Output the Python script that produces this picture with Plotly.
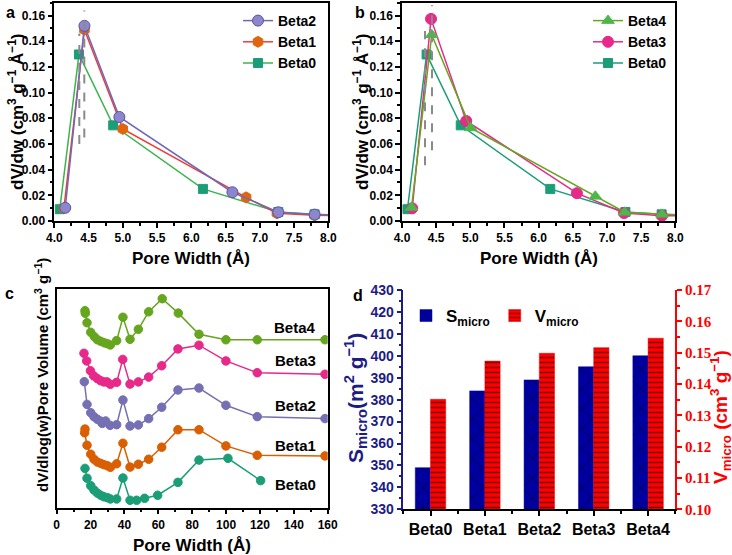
import plotly.graph_objects as go

# ---------------- data ----------------
# panel a
a_beta2_x = [4.16, 4.44, 4.95, 6.60, 7.27, 7.80, 8.40]
a_beta2_y = [0.0103, 0.152, 0.081, 0.0224, 0.0068, 0.0050, 0.0043]
a_beta1_x = [4.14, 4.44, 5.00, 6.80, 7.25, 7.80, 8.40]
a_beta1_y = [0.0099, 0.149, 0.0717, 0.0184, 0.0060, 0.0044, 0.0040]
beta0_x = [4.08, 4.36, 4.86, 6.17, 7.27, 7.80, 8.40]
beta0_y = [0.0092, 0.1297, 0.0745, 0.0250, 0.0070, 0.0052, 0.0045]
# panel b
b_beta4_x = [4.14, 4.435, 5.005, 6.83, 7.26, 7.805, 8.40]
b_beta4_y = [0.0106, 0.145, 0.0725, 0.0192, 0.0068, 0.0052, 0.0042]
b_beta3_x = [4.15, 4.425, 4.94, 6.56, 7.25, 7.805, 8.40]
b_beta3_y = [0.0099, 0.1574, 0.0779, 0.0217, 0.0062, 0.0041, 0.0040]
# guide lines (x, y_start, y_end)
a_guides = [(4.365, 0.060, 0.146), (4.438, 0.065, 0.164)]
b_guides = [(4.337, 0.0435, 0.148), (4.439, 0.055, 0.168)]

# panel c (offset curves, arbitrary units)
c_beta4_x = [16.7, 16.9, 17.9, 20.1, 22.2, 24.0, 26.0, 28.1, 29.9, 31.7, 35.4, 39.1, 43.3, 48.2, 54.3, 62.3, 71.8, 84.0, 99.9, 118.4, 158.4]
c_beta4_y = [0.902, 0.890, 0.847, 0.803, 0.783, 0.769, 0.762, 0.755, 0.751, 0.745, 0.765, 0.872, 0.771, 0.817, 0.897, 0.957, 0.891, 0.794, 0.769, 0.769, 0.769]
c_beta3_x = [16.1, 17.7, 19.9, 21.8, 24.0, 26.0, 27.9, 29.7, 31.7, 35.4, 39.0, 43.3, 48.2, 54.3, 62.0, 71.6, 84.0, 99.9, 118.4, 158.4]
c_beta3_y = [0.707, 0.672, 0.627, 0.604, 0.591, 0.581, 0.576, 0.576, 0.565, 0.574, 0.679, 0.566, 0.576, 0.598, 0.650, 0.727, 0.744, 0.672, 0.618, 0.611]
c_beta2_x = [16.3, 17.9, 20.1, 22.0, 24.0, 26.0, 26.9, 28.9, 31.5, 35.4, 39.1, 43.3, 48.2, 54.3, 62.0, 71.6, 84.0, 99.9, 118.4, 158.4]
c_beta2_y = [0.577, 0.473, 0.435, 0.417, 0.405, 0.396, 0.386, 0.397, 0.377, 0.380, 0.493, 0.374, 0.379, 0.408, 0.460, 0.539, 0.548, 0.469, 0.417, 0.408]
c_beta1_x = [16.7, 16.5, 17.9, 20.1, 22.0, 24.0, 26.0, 27.9, 29.9, 31.7, 35.4, 39.1, 43.3, 48.2, 54.3, 62.0, 71.6, 84.0, 99.9, 118.4, 158.4]
c_beta1_y = [0.360, 0.343, 0.286, 0.245, 0.222, 0.209, 0.203, 0.197, 0.192, 0.185, 0.201, 0.295, 0.186, 0.199, 0.222, 0.277, 0.357, 0.357, 0.283, 0.240, 0.237]
c_beta0_x = [16.7, 17.9, 20.1, 22.0, 24.0, 26.0, 27.9, 29.9, 31.7, 35.4, 39.1, 43.3, 47.2, 51.9, 59.6, 71.6, 84.0, 101.1, 120.4]
c_beta0_y = [0.180, 0.135, 0.101, 0.081, 0.067, 0.057, 0.050, 0.046, 0.040, 0.040, 0.136, 0.034, 0.034, 0.043, 0.057, 0.116, 0.218, 0.226, 0.124]
c_labels = ["Beta4", "Beta3", "Beta2", "Beta1", "Beta0"]
c_label_y = [0.823, 0.672, 0.466, 0.287, 0.104]

# panel d
categories = ["Beta0", "Beta1", "Beta2", "Beta3", "Beta4"]
s_micro = [349, 384, 389, 395, 400]
v_micro = [0.1351, 0.1473, 0.1498, 0.1516, 0.1546]

# ---------------- styling ----------------
W, H = 732, 555
SANS = "Liberation Sans"
SERIF = "Liberation Serif"
NAVY = "#1c1c84"

def px(x):
    return x / W

def py(y):
    return 1 - y / H

fig = go.Figure()

def line_trace(x, y, name, lcol, mcol, sym, size, xa, ya, legend=None, show=True, mline=None):
    return go.Scatter(
        x=x, y=y, name=name, mode="lines+markers",
        line=dict(color=lcol, width=1.5),
        marker=dict(color=mcol, symbol=sym, size=size,
                    line=dict(color=mline or mcol, width=1)),
        xaxis=xa, yaxis=ya, legend=legend, showlegend=show,
    )

# panel a (Beta0 bottom, Beta2 on top)
fig.add_trace(line_trace(beta0_x, beta0_y, "Beta0", "#3cb44b", "#1b9e77", "square", 9, "x", "y", "legend"))
fig.add_trace(line_trace(a_beta1_x, a_beta1_y, "Beta1", "#f23a3a", "#e0650f", "hexagon", 11, "x", "y", "legend"))
fig.add_trace(line_trace(a_beta2_x, a_beta2_y, "Beta2", "#6f68b8", "#8c86cc", "circle", 11, "x", "y", "legend", mline="#5a53a6"))

# panel b
fig.add_trace(line_trace(beta0_x, beta0_y, "Beta0", "#1b9e77", "#1b9e77", "square", 9, "x2", "y2", "legend2"))
fig.add_trace(line_trace(b_beta3_x, b_beta3_y, "Beta3", "#e7298a", "#e7298a", "circle", 11, "x2", "y2", "legend2"))
fig.add_trace(line_trace(b_beta4_x, b_beta4_y, "Beta4", "#66a61e", "#4cb849", "triangle-up", 11, "x2", "y2", "legend2"))

# panel c
c_sets = [
    (c_beta0_x, c_beta0_y, "#1b9e77"),
    (c_beta1_x, c_beta1_y, "#d95f02"),
    (c_beta2_x, c_beta2_y, "#7570b3"),
    (c_beta3_x, c_beta3_y, "#e7298a"),
    (c_beta4_x, c_beta4_y, "#66a61e"),
]
for (cx, cy, col), nm in zip(c_sets, categories):
    fig.add_trace(line_trace(cx, cy, nm, col, col, "circle", 8.5, "x3", "y3", show=False))

# panel d
idx = list(range(len(categories)))
fig.add_trace(go.Bar(
    x=idx, y=s_micro, name="<b>S<sub>micro</sub></b>", xaxis="x4", yaxis="y4",
    offset=-0.28, width=0.28, legend="legend3",
    marker=dict(color="#0000a0", line=dict(color="#0000a0", width=0.5),
                pattern=dict(shape="x", fgcolor="#000000", size=14, solidity=0.12)),
))
fig.add_trace(go.Bar(
    x=idx, y=v_micro, name="<b>V<sub>micro</sub></b>", xaxis="x4", yaxis="y5",
    offset=0.0, width=0.28, legend="legend3",
    marker=dict(color="#ff0000", line=dict(color="#ff0000", width=0.5),
                pattern=dict(shape="-", fgcolor="#000000", size=5, solidity=0.3)),
))

# guide lines
shapes = []
for gx, y0, y1 in a_guides:
    shapes.append(dict(type="line", xref="x", yref="y", x0=gx, x1=gx, y0=y0, y1=y1,
                       line=dict(color="#8a8a8a", width=2, dash="dash"), layer="above"))
for gx, y0, y1 in b_guides:
    shapes.append(dict(type="line", xref="x2", yref="y2", x0=gx, x1=gx, y0=y0, y1=y1,
                       line=dict(color="#8a8a8a", width=2, dash="dash"), layer="above"))

tickfont = dict(family=SANS, size=12, color="black", weight="bold")

def box_axis(**kw):
    d = dict(showline=True, linecolor="black", linewidth=1.5, mirror=True,
             ticks="outside", ticklen=5, tickwidth=1.5, tickcolor="black",
             showgrid=False, zeroline=False, tickfont=tickfont, automargin=False)
    d.update(kw)
    return d

ya_dom = [py(221), py(2.7)]
yc_dom = [py(507.7), py(289.3)]
yd_dom = [py(509.3), py(290)]

xab = dict(range=[4, 8], dtick=0.5, tick0=4, tickformat=".1f",
           minor=dict(dtick=0.25, ticks="outside", ticklen=3, tickcolor="black"))
yab = dict(range=[0, 0.17], dtick=0.02, tick0=0, tickformat=".2f",
           minor=dict(dtick=0.01, ticks="outside", ticklen=3, tickcolor="black"))

fig.update_layout(
    width=W, height=H, margin=dict(l=0, r=0, t=0, b=0, pad=0, autoexpand=False),
    paper_bgcolor="white", plot_bgcolor="white",
    barmode="overlay",
    xaxis=box_axis(domain=[px(54.3), px(328.3)], anchor="y", **xab),
    yaxis=box_axis(domain=ya_dom, anchor="x", **yab),
    xaxis2=box_axis(domain=[px(402), px(675.3)], anchor="y2", **xab),
    yaxis2=box_axis(domain=ya_dom, anchor="x2", **yab),
    xaxis3=box_axis(domain=[px(56.7), px(327.7)], anchor="y3", range=[0, 160], dtick=20, tick0=0,
                    minor=dict(dtick=10, ticks="outside", ticklen=3, tickcolor="black")),
    yaxis3=box_axis(domain=yc_dom, anchor="x3", range=[0, 1], ticks="", showticklabels=False),
    xaxis4=dict(domain=[px(403.3), px(675.3)], anchor="y4", range=[-0.5, 4.5], automargin=False,
                tickvals=idx, ticktext=categories, showline=True, linecolor="black", linewidth=1.5,
                ticks="outside", ticklen=5, tickwidth=1.5, tickcolor="black", showgrid=False, zeroline=False,
                tickfont=dict(family=SANS, size=16, color="black", weight="bold"),
                minor=dict(tick0=-0.5, dtick=1, ticks="outside", ticklen=3, tickcolor="black")),
    yaxis4=dict(domain=yd_dom, anchor="x4", range=[330, 430], dtick=10, tick0=330, automargin=False,
                showline=True, linecolor=NAVY, linewidth=1.5, ticks="outside", ticklen=5, tickwidth=1.5,
                tickcolor=NAVY, showgrid=False, zeroline=False,
                tickfont=dict(family=SANS, size=14, color=NAVY, weight="bold"),
                minor=dict(dtick=5, ticks="outside", ticklen=3, tickcolor=NAVY)),
    yaxis5=dict(domain=yd_dom, anchor="x4", overlaying="y4", side="right", range=[0.10, 0.17],
                dtick=0.01, tick0=0.10, tickformat=".2f", automargin=False,
                showline=True, linecolor="#ff0000", linewidth=1.5, ticks="outside", ticklen=5, tickwidth=1.5,
                tickcolor="#ff0000", showgrid=False, zeroline=False,
                tickfont=dict(family=SERIF, size=15, color="#ff0000", weight="bold"),
                minor=dict(dtick=0.005, ticks="outside", ticklen=3, tickcolor="#ff0000")),
    legend=dict(x=px(238), y=py(5), xanchor="left", yanchor="top", traceorder="reversed",
                bgcolor="rgba(0,0,0,0)", font=dict(family=SANS, size=14, color="black", weight="bold"),
                itemwidth=30),
    legend2=dict(x=px(588), y=py(5), xanchor="left", yanchor="top", traceorder="reversed",
                 bgcolor="rgba(0,0,0,0)", font=dict(family=SANS, size=14, color="black", weight="bold"),
                 itemwidth=30),
    legend3=dict(x=px(406), y=py(298), xanchor="left", yanchor="top", orientation="h",
                 bgcolor="rgba(0,0,0,0)", font=dict(family=SANS, size=17, color="black"),
                 itemwidth=30),
    shapes=shapes,
)

ann = []
def txt(text, x, y, size, angle=0, color="black", family=SANS, xref="paper", yref="paper",
        xanchor="center", yanchor="middle"):
    ann.append(dict(text=text, x=x, y=y, xref=xref, yref=yref, showarrow=False, textangle=angle,
                    xanchor=xanchor, yanchor=yanchor,
                    font=dict(family=family, size=size, color=color, weight="bold")))

ytitle_ab = "dV/dw (cm<sup>3</sup> g<sup>−1</sup> Å<sup>−1</sup>)"
txt(ytitle_ab, px(16), py(112), 17, angle=-90)
txt(ytitle_ab, px(361), py(112), 17, angle=-90)
txt("Pore Width (Å)", px(191), py(258), 17)
txt("Pore Width (Å)", px(538.5), py(258), 17)
txt("Pore Width (Å)", px(191.5), py(545), 17)
txt("dV/dlog(w)Pore Volume (cm<sup>3</sup> g<sup>−1</sup>)", px(41), py(375), 15, angle=-90)
txt("S<sub>micro</sub>(m<sup>2</sup> g<sup>−1</sup>)", px(355), py(398), 21, angle=-90, color=NAVY)
txt("V<sub>micro</sub> (cm<sup>3</sup> g<sup>−1</sup>)", px(720), py(417), 19, angle=-90, color="#ff0000")
for lab, ly in zip(c_labels, c_label_y):
    txt(lab, 140.7, ly, 15, xref="x3", yref="y3")
txt("a", px(10), py(12), 16)
txt("b", px(360), py(12), 16)
txt("c", px(9), py(293), 16)
txt("d", px(358), py(295), 16)

fig.update_layout(annotations=ann)
fig.write_html("out.html", config={"displayModeBar": False},
               post_script="document.body.style.margin='0';document.body.style.overflow='hidden';")
